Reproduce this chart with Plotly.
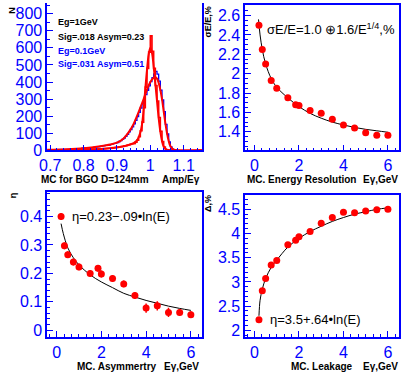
import numpy as np
import plotly.graph_objects as go

W, H = 401, 381

# ---------------- data ----------------
# Panel 1: histograms (bin width 0.005, first bin starts at 0.700)
hist_start = 0.700
hist_width = 0.005
wide_counts = [3, 4, 4, 5, 4, 6, 5, 6, 7, 6, 8, 7, 9, 8, 10, 9, 11, 12, 11, 13,
               14, 13, 15, 16, 15, 17, 18, 20, 19, 22, 24, 23, 27, 29, 31, 30, 34, 37, 40, 43,
               46, 52, 57, 64, 72, 82, 94, 108, 122, 138, 155, 175, 198, 222, 248, 272, 298, 326, 352, 378,
               402, 425, 448, 462, 446, 405, 352, 296, 226, 152, 96, 50, 20, 7, 2, 0]
narrow_counts = [1, 2, 1, 2, 2, 1, 2, 3, 2, 3, 2, 3, 3, 4, 3, 4, 4, 5, 4, 5,
                 5, 6, 5, 6, 7, 6, 7, 8, 8, 9, 9, 10, 11, 11, 12, 13, 14, 15, 16, 17,
                 19, 20, 22, 24, 26, 28, 31, 34, 36, 38, 40, 48, 60, 80, 115, 165, 250, 370, 480, 575,
                 670, 580, 480, 380, 288, 192, 112, 52, 20, 6, 2, 0, 0, 0, 0, 0]
narrow_fit_x = [0.69, 0.75, 0.80, 0.85, 0.90, 0.93, 0.95, 0.96, 0.97, 0.975, 0.98, 0.985, 0.99,
                0.995, 1.0, 1.005, 1.01, 1.015, 1.02, 1.025, 1.03, 1.035, 1.04, 1.05, 1.06, 1.155]
narrow_fit_y = [1, 2, 4, 8, 17, 28, 42, 58, 105, 150, 240, 360, 470,
                560, 600, 570, 490, 390, 290, 190, 110, 55, 22, 3, 0, 0]
wide_fit_x = [0.69, 0.75, 0.80, 0.85, 0.88, 0.90, 0.92, 0.94, 0.95, 0.96, 0.97, 0.98, 0.99, 1.0,
              1.01, 1.015, 1.02, 1.025, 1.03, 1.035, 1.04, 1.045, 1.05, 1.055, 1.06, 1.07, 1.08, 1.155]
wide_fit_y = [3, 6, 12, 24, 34, 45, 70, 120, 155, 200, 250, 300, 355, 400,
              425, 430, 420, 395, 355, 300, 230, 160, 100, 55, 25, 4, 0, 0]

# Energies (GeV)
energy = [0.2, 0.35, 0.5, 0.75, 1.0, 1.5, 1.85, 2.0, 2.5, 3.0, 3.5, 4.0, 4.5, 5.0, 5.5, 6.0]

# Panel 2: energy resolution (%)
resolution = [2.50, 2.25, 2.10, 1.93, 1.85, 1.75, 1.68, 1.67, 1.62, 1.59, 1.53, 1.47, 1.44, 1.39, 1.365, 1.365]
res_fit_x = [0.18, 0.25, 0.35, 0.5, 0.75, 1.0, 1.5, 2.0, 2.5, 3.0, 3.5, 4.0, 4.5, 5.0, 5.5, 6.0]
res_fit_y = [2.56, 2.40, 2.25, 2.10, 1.95, 1.86, 1.75, 1.66, 1.59, 1.54, 1.50, 1.47, 1.445, 1.425, 1.41, 1.395]

# Panel 3: asymmetry
asym = [0.40, 0.297, 0.266, 0.24, 0.223, 0.20, 0.218, 0.198, 0.182, 0.163, 0.122, 0.078, 0.086, 0.063, 0.063, 0.055]
asym_err = [0.012, 0.012, 0.012, 0.012, 0.012, 0.012, 0.012, 0.012, 0.012, 0.012, 0.012, 0.016, 0.016, 0.016, 0.012, 0.012]
asym_fit_x = [0.2, 0.3, 0.5, 0.75, 1.0, 1.5, 2.0, 2.5, 3.0, 3.5, 4.0, 4.5, 5.0, 5.5, 6.0]
asym_fit_y = [0.375, 0.34, 0.29, 0.255, 0.23, 0.195, 0.17, 0.15, 0.13, 0.117, 0.105, 0.095, 0.085, 0.077, 0.07]

# Panel 4: leakage (%)
leak = [2.22, 2.82, 3.07, 3.35, 3.445, 3.77, 3.86, 3.935, 4.04, 4.21, 4.33, 4.44, 4.43, 4.465, 4.49, 4.50]
leak_fit_x = [0.2, 0.25, 0.35, 0.5, 0.75, 1.0, 1.5, 2.0, 2.5, 3.0, 3.5, 4.0, 4.5, 5.0, 5.5, 6.0]
leak_fit_y = [2.30, 2.62, 2.85, 3.07, 3.30, 3.45, 3.72, 3.90, 4.04, 4.15, 4.25, 4.33, 4.40, 4.45, 4.50, 4.53]

# ---------------- helpers ----------------
def px(x):
    return x / W

def py(y):
    return 1 - y / H

BLUE = "#0000ff"
RED = "#ff0000"
FONT = "Liberation Sans, Arial, sans-serif"

fig = go.Figure()

# histogram step lines
edges = hist_start + hist_width * np.arange(len(wide_counts) + 1)

def step(counts):
    xs = [edges[0]]
    ys = [0]
    for i, c in enumerate(counts):
        xs += [edges[i], edges[i + 1]]
        ys += [c, c]
    xs.append(edges[-1]); ys.append(0)
    return xs, ys

wx, wy = step(wide_counts)
nx, ny = step(narrow_counts)
fig.add_trace(go.Scatter(x=wx, y=wy, mode="lines", line=dict(color=BLUE, width=1.3),
                         xaxis="x", yaxis="y", hoverinfo="skip"))
fig.add_trace(go.Scatter(x=nx, y=ny, mode="lines", line=dict(color=RED, width=1.6),
                         xaxis="x", yaxis="y", hoverinfo="skip"))
fig.add_trace(go.Scatter(x=wide_fit_x, y=wide_fit_y, mode="lines", line=dict(color=RED, width=2, shape="spline"),
                         xaxis="x", yaxis="y", hoverinfo="skip"))
fig.add_trace(go.Scatter(x=narrow_fit_x, y=narrow_fit_y, mode="lines", line=dict(color=RED, width=2, shape="spline"),
                         xaxis="x", yaxis="y", hoverinfo="skip"))

# panel 2
fig.add_trace(go.Scatter(x=res_fit_x, y=res_fit_y, mode="lines", line=dict(color="black", width=1, shape="spline"),
                         xaxis="x2", yaxis="y2"))
fig.add_trace(go.Scatter(x=energy, y=resolution, mode="markers", marker=dict(color=RED, size=7),
                         xaxis="x2", yaxis="y2"))
# panel 3
fig.add_trace(go.Scatter(x=asym_fit_x, y=asym_fit_y, mode="lines", line=dict(color="black", width=1, shape="spline"),
                         xaxis="x3", yaxis="y3"))
fig.add_trace(go.Scatter(x=energy, y=asym, mode="markers", marker=dict(color=RED, size=7),
                         error_y=dict(type="data", array=asym_err, color=RED, thickness=1.5, width=0),
                         xaxis="x3", yaxis="y3"))
# panel 4
fig.add_trace(go.Scatter(x=leak_fit_x, y=leak_fit_y, mode="lines", line=dict(color="black", width=1, shape="spline"),
                         xaxis="x4", yaxis="y4"))
fig.add_trace(go.Scatter(x=energy, y=leak, mode="markers", marker=dict(color=RED, size=7),
                         xaxis="x4", yaxis="y4"))


def xaxis(dom, rng, dtick, minor, mirror=True):
    d = dict(domain=[px(dom[0]), px(dom[1])], range=rng, dtick=dtick, tick0=0,
             showgrid=False, zeroline=False, showline=True, linecolor=BLUE, linewidth=1.5,
             mirror=mirror, ticks="inside", ticklen=6, tickcolor=BLUE, tickwidth=1.2,
             tickfont=dict(family=FONT, size=16, color=BLUE),
             minor=dict(dtick=minor, ticks="inside", ticklen=3, tickcolor=BLUE, tickwidth=1),
             fixedrange=True)
    return d


def yaxis(dom, rng, dtick, minor, mirror=True):
    d = dict(domain=[py(dom[1]), py(dom[0])], range=rng, dtick=dtick, tick0=0,
             showgrid=False, zeroline=False, showline=True, linecolor=BLUE, linewidth=1.5,
             mirror=mirror, ticks="inside", ticklen=6, tickcolor=BLUE, tickwidth=1.2,
             tickfont=dict(family=FONT, size=16, color=BLUE),
             minor=dict(dtick=minor, ticks="inside", ticklen=3, tickcolor=BLUE, tickwidth=1),
             fixedrange=True)
    return d

p1x, p1y = (40, 198), (3, 154)
p2x, p2y = (242, 399), (5, 154)
p3x, p3y = (40, 198), (197, 345)
p4x, p4y = (242, 399), (200, 345)

E_RANGE = [-0.42, 6.5]

layout = dict(
    width=W, height=H, margin=dict(l=0, r=0, t=0, b=0),
    paper_bgcolor="white", plot_bgcolor="white", showlegend=False,
    xaxis=dict(xaxis(p1x, [0.691, 1.155], 0.1, 0.02, mirror=False), anchor="y"),
    yaxis=dict(yaxis(p1y, [0, 863], 100, 50), anchor="x"),
    xaxis2=dict(xaxis(p2x, E_RANGE, 2, 1 / 3), anchor="y2"),
    yaxis2=dict(yaxis(p2y, [1.208, 2.71], 0.2, 0.05), anchor="x2"),
    xaxis3=dict(xaxis(p3x, E_RANGE, 2, 1 / 3), anchor="y3"),
    yaxis3=dict(yaxis(p3y, [-0.023, 0.485], 0.1, 0.02), anchor="x3"),
    xaxis4=dict(xaxis(p4x, E_RANGE, 2, 1 / 3), anchor="y4"),
    yaxis4=dict(yaxis(p4y, [1.865, 4.79], 0.5, 0.1), anchor="x4"),
)
fig.update_layout(**layout)

ann = []

def text(x, y, s, size=10, color="black", xanchor="left", angle=0, bold=True):
    ann.append(dict(x=px(x), y=py(y), xref="paper", yref="paper", text=("<b>%s</b>" % s) if bold else s,
                    showarrow=False, xanchor=xanchor, yanchor="middle", textangle=angle,
                    font=dict(family=FONT, size=size, color=color)))

# x titles
text(32, 184, "MC for BGO D=124mm")
text(198, 184, "Amp/Eγ", xanchor="right")
text(242, 184, "MC. Energy Resolution")
text(400, 184, "Eγ,GeV", xanchor="right")
text(68, 375, "MC. Asymmertry")
text(197, 375, "Eγ,GeV", xanchor="right")
text(287, 375, "MC. Leakage")
text(400, 375, "Eγ,GeV", xanchor="right")

# y titles (rotated)
text(4, 10, "N", size=9, xanchor="center", angle=-90)
text(205, 22, "σE/E,%", size=9, xanchor="center", angle=-90)
text(5, 200, "η", size=9, xanchor="center", angle=-90)
text(204, 208, "Δ,%", size=9, xanchor="center", angle=-90)

# panel 1 legend text
text(49, 23, "Eg=1GeV", size=9)
text(49, 38, "Sig=.018 Asym=0.23", size=9)
text(49, 52, "Eg=0.1GeV", size=9, color=BLUE)
text(49, 66, "Sig=.031 Asym=0.51", size=9, color=BLUE)

# fit formulas
text(262, 30, "σE/E=1.0 ⊕1.6/E<sup>1/4</sup>,%", size=13, bold=False)
text(63, 222, "η=0.23−.09•ln(E)", size=13, bold=False)
text(265, 327, "η=3.5+.64•ln(E)", size=13, bold=False)

fig.update_layout(annotations=ann)
fig.write_html("out.html")
